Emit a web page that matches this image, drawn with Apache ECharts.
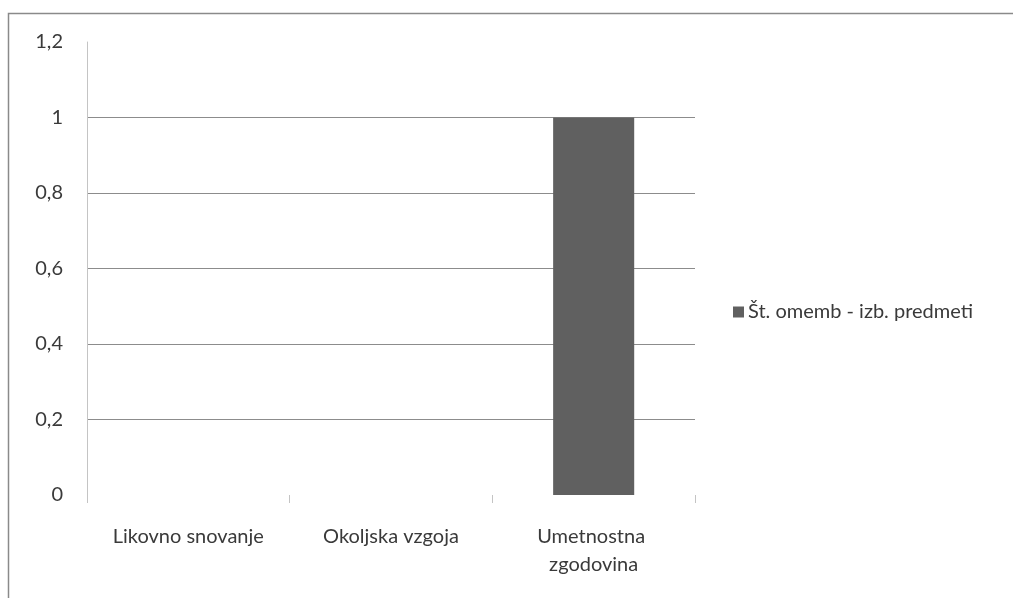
<!DOCTYPE html>
<html>
<head>
<meta charset="utf-8">
<style>
  html, body { margin: 0; padding: 0; background: #fff; }
  #chart { width: 1013px; height: 598px; }
</style>
<script src="https://cdn.jsdelivr.net/npm/echarts@6/dist/echarts.min.js"></script>
</head>
<body>
<div id="chart"></div>
<script>
// Chart data
const categories = ['Likovno snovanje', 'Okoljska vzgoja', 'Umetnostna zgodovina'];
const seriesName = 'Št. omemb - izb. predmeti';
const values = [0, 0, 1];
const yMin = 0;
const yMax = 1.2;
const yStep = 0.2;

const chart = echarts.init(document.getElementById('chart'));
const fontFamily = 'Lato, "Open Sans", sans-serif';
const textColor = '#3a3a3a';

chart.setOption({
  backgroundColor: '#fff',
  animation: false,
  graphic: [{
    type: 'rect',
    shape: { x: 8.5, y: 13.5, width: 1020, height: 600 },
    style: { fill: 'none', stroke: '#8a8a8a', lineWidth: 1.5 },
    silent: true
  }],
  grid: { left: 87, right: 318, top: 42, bottom: 103 },
  legend: {
    left: 728,
    top: 297,
    itemWidth: 11,
    itemHeight: 11,
    itemGap: 4,
    icon: 'rect',
    textStyle: { fontFamily, fontSize: 20, color: textColor, padding: [0, 0, 0, -1] },
    data: [seriesName]
  },
  xAxis: {
    type: 'category',
    data: categories,
    axisLine: { show: false },
    axisTick: {
      show: true, interval: 0, length: 8, inside: false,
      lineStyle: { color: '#c4c4c4', width: 1 }
    },
    axisLabel: {
      interval: 0,
      margin: 28,
      width: 180,
      overflow: 'break',
      lineHeight: 28,
      fontFamily, fontSize: 20, color: textColor
    }
  },
  yAxis: {
    type: 'value',
    min: yMin,
    max: yMax,
    interval: yStep,
    axisLine: { show: true, lineStyle: { color: '#c4c4c4', width: 1 } },
    axisTick: { show: false },
    axisLabel: {
      margin: 24,
      fontFamily, fontSize: 20, color: textColor,
      formatter: v => String(Math.round(v * 10) / 10).replace('.', ',')
    },
    splitLine: {
      show: true,
      showMinLine: false,
      showMaxLine: false,
      lineStyle: { color: '#8c8c8c', width: 1 }
    }
  },
  series: [{
    name: seriesName,
    type: 'bar',
    data: values,
    barWidth: '40%',
    itemStyle: { color: '#606060' }
  }]
});
</script>
</body>
</html>
